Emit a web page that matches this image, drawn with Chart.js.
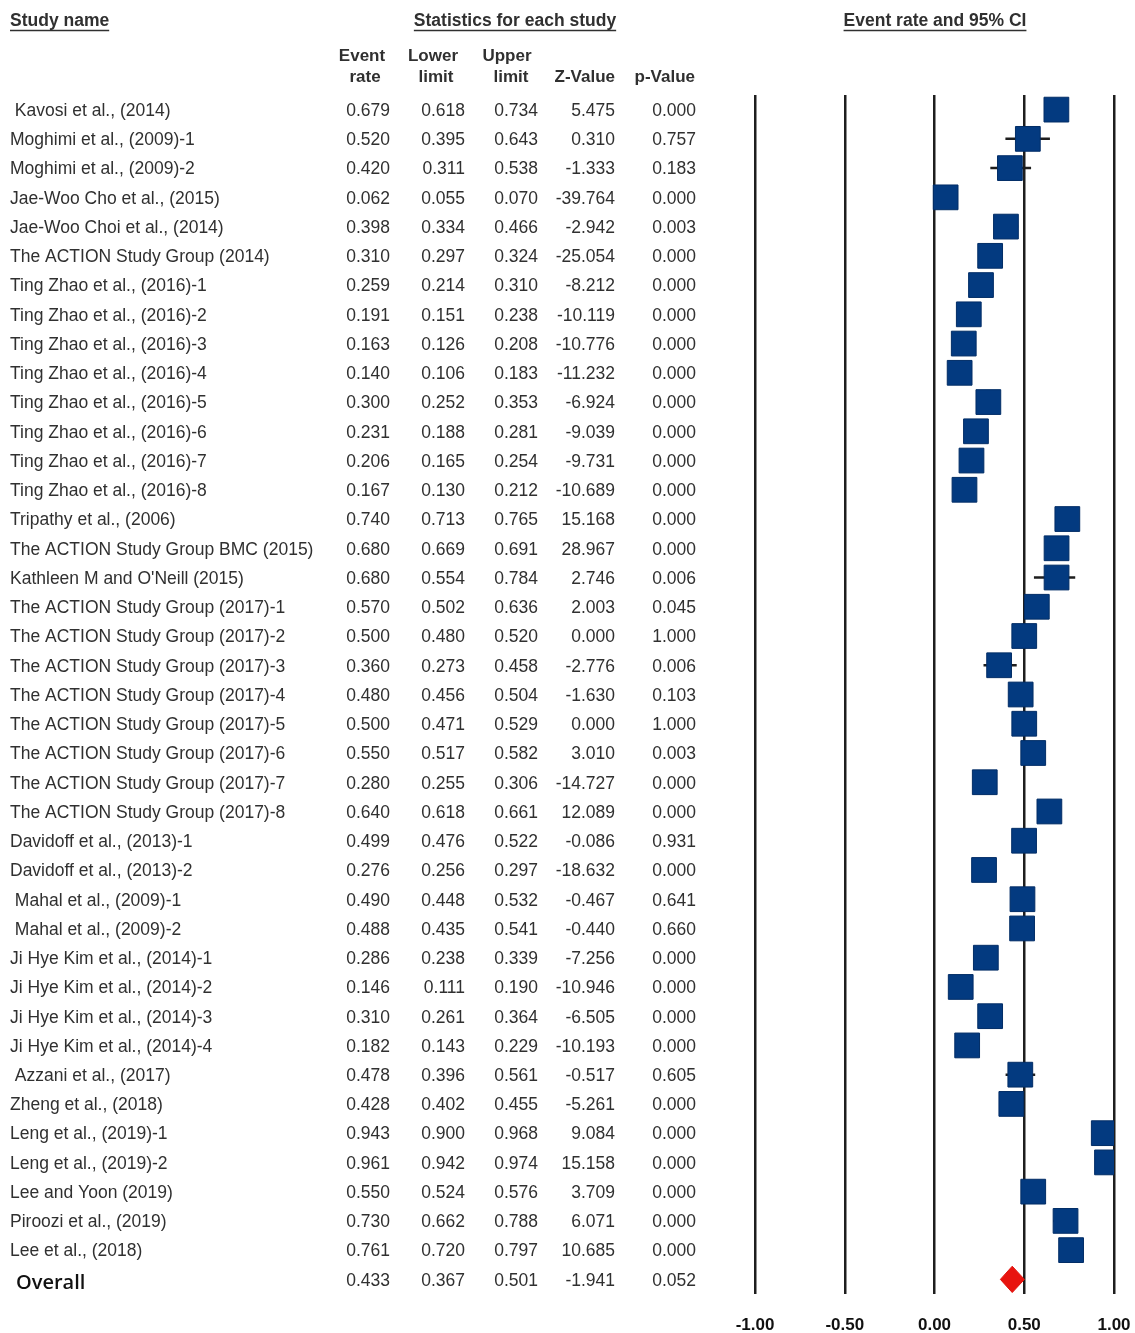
<!DOCTYPE html>
<html lang="en">
<head>
    <meta charset="UTF-8">
    <title>Event rate and 95% CI - forest plot</title>
    <script src="https://cdn.jsdelivr.net/npm/chart.js"></script>
    <style>
        html, body { margin: 0; padding: 0; background: #fff; overflow: hidden; }
        #forest { display: block; }
    </style>
</head>
<body>
    <canvas id="forest" width="1135" height="1333"></canvas>

    <script>
        // Study data
        const studyNames = [
            ' Kavosi et al., (2014)', 'Moghimi et al., (2009)-1', 'Moghimi et al., (2009)-2',
            'Jae-Woo Cho et al., (2015)', 'Jae-Woo Choi et al., (2014)', 'The ACTION Study Group (2014)',
            'Ting Zhao et al., (2016)-1', 'Ting Zhao et al., (2016)-2', 'Ting Zhao et al., (2016)-3',
            'Ting Zhao et al., (2016)-4', 'Ting Zhao et al., (2016)-5', 'Ting Zhao et al., (2016)-6',
            'Ting Zhao et al., (2016)-7', 'Ting Zhao et al., (2016)-8', 'Tripathy et al., (2006)',
            'The ACTION Study Group BMC (2015)', "Kathleen M and O'Neill (2015)",
            'The ACTION Study Group (2017)-1', 'The ACTION Study Group (2017)-2', 'The ACTION Study Group (2017)-3',
            'The ACTION Study Group (2017)-4', 'The ACTION Study Group (2017)-5', 'The ACTION Study Group (2017)-6',
            'The ACTION Study Group (2017)-7', 'The ACTION Study Group (2017)-8',
            'Davidoff et al., (2013)-1', 'Davidoff et al., (2013)-2', ' Mahal et al., (2009)-1', ' Mahal et al., (2009)-2',
            'Ji Hye Kim et al., (2014)-1', 'Ji Hye Kim et al., (2014)-2', 'Ji Hye Kim et al., (2014)-3',
            'Ji Hye Kim et al., (2014)-4', ' Azzani et al., (2017)', 'Zheng et al., (2018)',
            'Leng et al., (2019)-1', 'Leng et al., (2019)-2', 'Lee and Yoon (2019)', 'Piroozi et al., (2019)',
            'Lee et al., (2018)'
        ];
        const eventRate = [0.679, 0.520, 0.420, 0.062, 0.398, 0.310, 0.259, 0.191, 0.163, 0.140,
            0.300, 0.231, 0.206, 0.167, 0.740, 0.680, 0.680, 0.570, 0.500, 0.360,
            0.480, 0.500, 0.550, 0.280, 0.640, 0.499, 0.276, 0.490, 0.488, 0.286,
            0.146, 0.310, 0.182, 0.478, 0.428, 0.943, 0.961, 0.550, 0.730, 0.761];
        const lowerLimit = [0.618, 0.395, 0.311, 0.055, 0.334, 0.297, 0.214, 0.151, 0.126, 0.106,
            0.252, 0.188, 0.165, 0.130, 0.713, 0.669, 0.554, 0.502, 0.480, 0.273,
            0.456, 0.471, 0.517, 0.255, 0.618, 0.476, 0.256, 0.448, 0.435, 0.238,
            0.111, 0.261, 0.143, 0.396, 0.402, 0.900, 0.942, 0.524, 0.662, 0.720];
        const upperLimit = [0.734, 0.643, 0.538, 0.070, 0.466, 0.324, 0.310, 0.238, 0.208, 0.183,
            0.353, 0.281, 0.254, 0.212, 0.765, 0.691, 0.784, 0.636, 0.520, 0.458,
            0.504, 0.529, 0.582, 0.306, 0.661, 0.522, 0.297, 0.532, 0.541, 0.339,
            0.190, 0.364, 0.229, 0.561, 0.455, 0.968, 0.974, 0.576, 0.788, 0.797];
        const zValue = [5.475, 0.310, -1.333, -39.764, -2.942, -25.054, -8.212, -10.119, -10.776, -11.232,
            -6.924, -9.039, -9.731, -10.689, 15.168, 28.967, 2.746, 2.003, 0.000, -2.776,
            -1.630, 0.000, 3.010, -14.727, 12.089, -0.086, -18.632, -0.467, -0.440, -7.256,
            -10.946, -6.505, -10.193, -0.517, -5.261, 9.084, 15.158, 3.709, 6.071, 10.685];
        const pValue = [0.000, 0.757, 0.183, 0.000, 0.003, 0.000, 0.000, 0.000, 0.000, 0.000,
            0.000, 0.000, 0.000, 0.000, 0.000, 0.000, 0.006, 0.045, 1.000, 0.006,
            0.103, 1.000, 0.003, 0.000, 0.000, 0.931, 0.000, 0.641, 0.660, 0.000,
            0.000, 0.000, 0.000, 0.605, 0.000, 0.000, 0.000, 0.000, 0.000, 0.000];

        // Pooled estimate
        const overallName = 'Overall';
        const overallStats = [0.433, 0.367, 0.501, -1.941, 0.052]; // rate, lower, upper, z, p

        const xTicks = [-1, -0.5, 0, 0.5, 1];

        const overallRow = studyNames.length;
        const diamondHalf = 0.45; // half height of the diamond, in rows

        const squarePoints = eventRate.map((v, i) => ({ x: v, y: i }));
        const ciPoints = [];
        lowerLimit.forEach((lo, i) => {
            ciPoints.push({ x: lo, y: i }, { x: upperLimit[i], y: i }, { x: null, y: null });
        });
        const diamondPoints = [
            { x: overallStats[1], y: overallRow },
            { x: overallStats[0], y: overallRow - diamondHalf },
            { x: overallStats[2], y: overallRow },
            { x: overallStats[0], y: overallRow + diamondHalf },
            { x: overallStats[1], y: overallRow }
        ];

        // Table text drawn next to the plot, one line per row of the y scale
        const tablePlugin = {
            id: 'studyTable',
            afterDraw(chart) {
                const ctx = chart.ctx;
                const y = chart.scales.y;
                const txt = '#303030';
                ctx.save();
                ctx.fillStyle = txt;
                ctx.strokeStyle = txt;
                ctx.textBaseline = 'middle';

                // underlined section headers
                ctx.font = 'bold 17.5px "Liberation Sans", Arial, sans-serif';
                const heads = [['Study name', 10, 'left'], ['Statistics for each study', 515, 'center'], ['Event rate and 95% CI', 935, 'center']];
                heads.forEach(([t, hx, al]) => {
                    ctx.textAlign = al;
                    ctx.fillText(t, hx, 21);
                    const w = ctx.measureText(t).width;
                    const x0 = al === 'left' ? hx : hx - w / 2;
                    ctx.lineWidth = 1.5;
                    ctx.beginPath();
                    ctx.moveTo(x0, 30.5);
                    ctx.lineTo(x0 + w, 30.5);
                    ctx.stroke();
                });

                // column headers
                ctx.font = 'bold 17px "Liberation Sans", Arial, sans-serif';
                ctx.textAlign = 'center';
                ctx.fillText('Event', 362, 56);
                ctx.fillText('rate', 365, 77);
                ctx.fillText('Lower', 433, 56);
                ctx.fillText('limit', 436, 77);
                ctx.fillText('Upper', 507, 56);
                ctx.fillText('limit', 511, 77);
                ctx.textAlign = 'right';
                ctx.fillText('Z-Value', 615, 77);
                ctx.fillText('p-Value', 695, 77);

                const colRight = [390, 465, 538, 615, 696];
                const drawNums = (vals, py) => {
                    ctx.textAlign = 'right';
                    vals.forEach((v, c) => ctx.fillText(v.toFixed(3), colRight[c], py));
                };

                ctx.font = '17.5px "Liberation Sans", Arial, sans-serif';
                studyNames.forEach((name, i) => {
                    const py = y.getPixelForValue(i) + 1.5;
                    ctx.textAlign = 'left';
                    ctx.fillText(name, 10, py);
                    drawNums([eventRate[i], lowerLimit[i], upperLimit[i], zValue[i], pValue[i]], py);
                });

                const oy = y.getPixelForValue(overallRow) + 1.5;
                drawNums(overallStats, oy);
                ctx.font = '600 20px "Open Sans", "Noto Sans", sans-serif';
                ctx.fillStyle = '#111';
                ctx.textAlign = 'left';
                ctx.fillText(overallName, 16, oy + 2);
                ctx.restore();
            }
        };

        new Chart(document.getElementById('forest'), {
            type: 'scatter',
            data: {
                datasets: [
                    {
                        label: 'Event rate',
                        data: squarePoints,
                        pointStyle: 'rect',
                        pointRadius: 17.5,
                        backgroundColor: '#033a80',
                        borderColor: '#022d66',
                        borderWidth: 1,
                        order: 1
                    },
                    {
                        label: '95% CI',
                        data: ciPoints,
                        showLine: true,
                        spanGaps: false,
                        pointRadius: 0,
                        borderColor: '#1e1e1e',
                        borderWidth: 2.5,
                        order: 2
                    },
                    {
                        label: 'Overall',
                        data: diamondPoints,
                        showLine: true,
                        pointRadius: 0,
                        borderWidth: 1,
                        borderColor: '#e0120c',
                        backgroundColor: '#e8140f',
                        fill: 'shape',
                        order: 0
                    }
                ]
            },
            options: {
                responsive: false,
                animation: false,
                events: [],
                layout: { padding: { left: 755, right: 21, top: 95, bottom: 0 } },
                plugins: {
                    legend: { display: false },
                    tooltip: { enabled: false }
                },
                scales: {
                    x: {
                        type: 'linear',
                        min: -1,
                        max: 1,
                        afterBuildTicks: (s) => { s.ticks = xTicks.map(v => ({ value: v })); },
                        afterFit: (s) => { s.height = 39; s.paddingLeft = 0; s.paddingRight = 0; },
                        grid: { color: '#1e1e1e', lineWidth: 2.5, drawTicks: false },
                        border: { display: false },
                        ticks: {
                            padding: 21,
                            minRotation: 0,
                            maxRotation: 0,
                            color: '#111',
                            font: { family: '"Liberation Sans", Arial, sans-serif', size: 17, weight: 'bold' },
                            callback: (v) => v.toFixed(2)
                        }
                    },
                    y: {
                        type: 'linear',
                        display: false,
                        reverse: true,
                        min: -0.5,
                        max: overallRow + 0.5
                    }
                }
            },
            plugins: [tablePlugin]
        });
    </script>
</body>
</html>
